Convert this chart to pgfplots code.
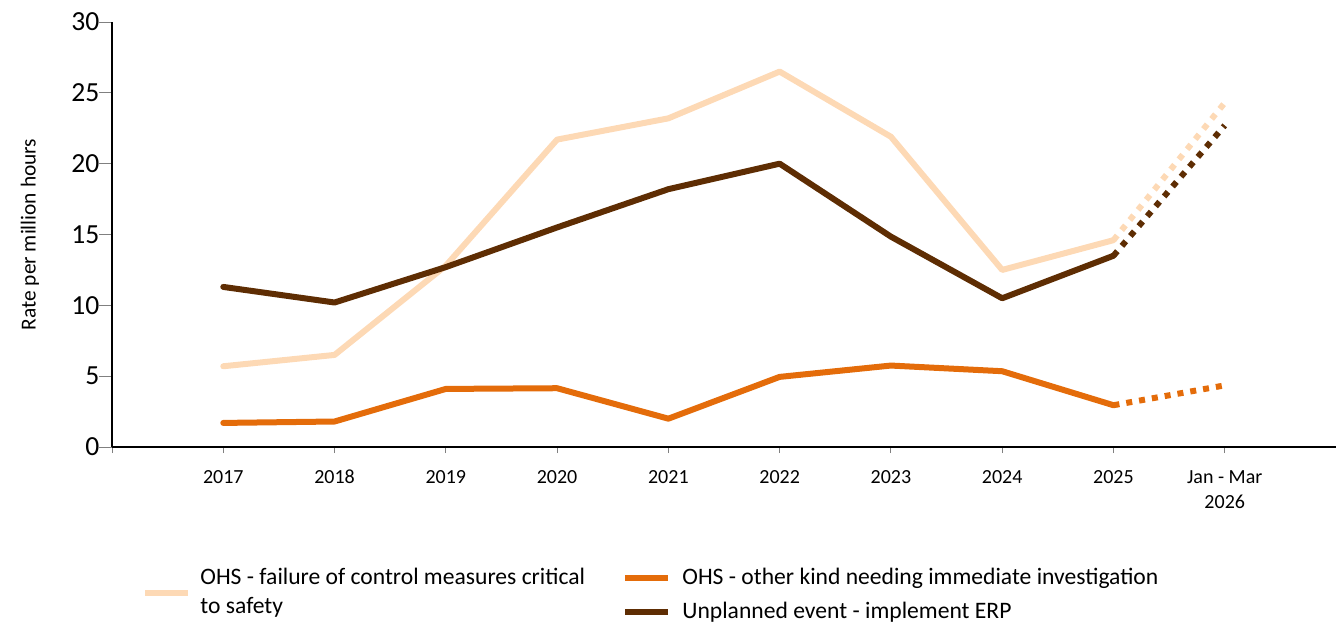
\documentclass[border=0pt]{standalone}
\usepackage{pgfplots}
\pgfplotsset{compat=1.18}
\usepackage{fontspec}
\setmainfont{Carlito}
\definecolor{peach}{HTML}{FDD9B5}
\definecolor{ohsorange}{HTML}{E46C0A}
\definecolor{brown}{HTML}{5E2D03}
\begin{document}
\begin{tikzpicture}
\path[use as bounding box] (-56pt,-91pt) rectangle (612pt,223.5pt);
\begin{axis}[
  scale only axis,
  width=612pt, height=212.5pt,
  xmin=-1, xmax=10, ymin=0, ymax=30,
  axis lines=left,
  axis line style={-, black, line width=1pt},
  tick align=outside,
  tick style={gray, line width=0.5pt},
  xtick={-1,0,1,2,3,4,5,6,7,8,9},
  xticklabels={,{\strut 2017},{\strut 2018},{\strut 2019},{\strut 2020},{\strut 2021},{\strut 2022},{\strut 2023},{\strut 2024},{\strut 2025},{\strut Jan - Mar\\2026}},
  xtick style={/pgfplots/major tick length=3pt},
  ytick style={/pgfplots/major tick length=6.5pt},
  ytick={0,5,10,15,20,25,30},
  /pgf/number format/assume math mode=true,
  xticklabel style={font=\fontsize{10}{12.5}\selectfont, align=center, anchor=north, yshift=-1.5pt},
  yticklabel style={font=\fontsize{13.8}{15}\selectfont, xshift=1.5pt},
  ylabel={Rate per million hours},
  every axis y label/.style={at={(axis description cs:-0.067,0.5)}, rotate=90, anchor=center, font=\fontsize{10.7}{12}\selectfont},
  clip=false,
]
\addplot[peach, line width=3pt, line join=round, line cap=round] coordinates {
 (0,5.7) (1,6.5) (2,12.8) (3,21.7) (4,23.2) (5,26.5) (6,21.9) (7,12.5) (8,14.6)};
\addplot[peach, line width=3pt, dash pattern=on 3pt off 3.5pt] coordinates {(8,14.6) (9,24.3)};
\addplot[ohsorange, line width=3pt, line join=round, line cap=round] coordinates {
 (0,1.7) (1,1.8) (2,4.1) (3,4.15) (4,2.0) (5,4.95) (6,5.75) (7,5.35) (8,2.95)};
\addplot[ohsorange, line width=3pt, dash pattern=on 3pt off 3.5pt] coordinates {(8,2.95) (9,4.35)};
\addplot[brown, line width=3pt, line join=round, line cap=round] coordinates {
 (0,11.3) (1,10.2) (2,12.7) (3,15.5) (4,18.2) (5,20.0) (6,14.85) (7,10.5) (8,13.5)};
\addplot[brown, line width=3pt, dash pattern=on 3pt off 3.5pt] coordinates {(8,13.5) (9,22.7)};
\end{axis}
% legend
\draw[peach, line width=3pt] (16.5pt,-73pt) -- (38pt,-73pt);
\node[anchor=west, align=left, inner sep=0pt, font=\fontsize{11.8}{14.5}\selectfont] at (44pt,-73pt) {OHS - failure of control measures critical\\to safety};
\draw[ohsorange, line width=3pt] (256.5pt,-65.5pt) -- (278pt,-65.5pt);
\node[anchor=west, inner sep=0pt, font=\fontsize{11.8}{14.5}\selectfont] at (285pt,-65.5pt) {OHS - other kind needing immediate investigation};
\draw[brown, line width=3pt] (256.5pt,-82.5pt) -- (278pt,-82.5pt);
\node[anchor=west, inner sep=0pt, font=\fontsize{11.8}{14.5}\selectfont] at (285pt,-82.5pt) {Unplanned event - implement ERP};
\end{tikzpicture}
\end{document}
